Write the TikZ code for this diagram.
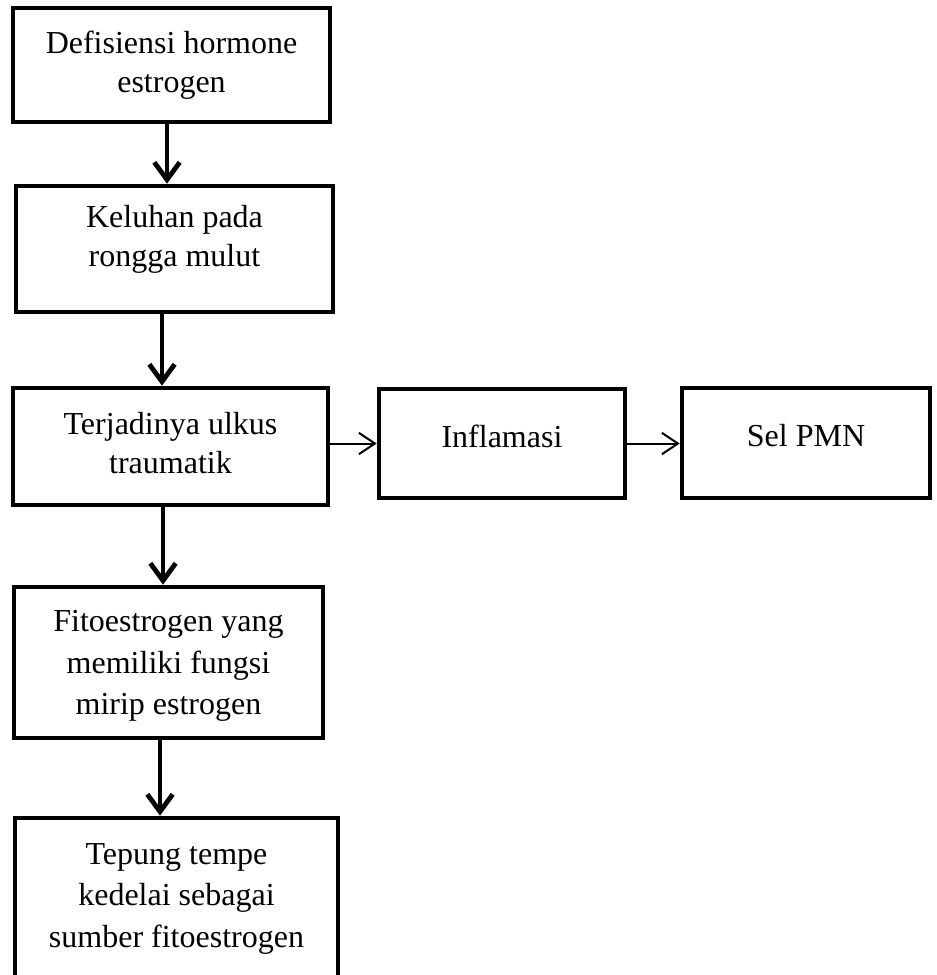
\documentclass[tikz,border=0pt]{standalone}
\usepackage{fontspec}
\setmainfont{Liberation Serif}
\usetikzlibrary{arrows.meta}

\tikzset{
  stepbox/.style={draw,line width=3.4pt,align=center,inner sep=0pt,
    font=\fontsize{24}{29.5}\selectfont},
  widebox/.style={stepbox,font=\fontsize{24}{31}\selectfont},
  downarrow/.style={line width=3.6pt,-{Straight Barb[length=13pt,width=19pt]}},
  sidearrow/.style={line width=1.5pt,-{Straight Barb[length=12pt,width=16pt]}}
}

\begin{document}
\begin{tikzpicture}[x=0.75pt,y=-0.75pt]
    \useasboundingbox (0,0) rectangle (936,975);
    % main column
    \node[stepbox,minimum width=237.8pt,minimum height=85.5pt] (defisiensi) at (171.5,65) {Defisiensi hormone\\estrogen};
    \node[stepbox,minimum width=237.8pt,minimum height=94.5pt,text depth=19.5pt] (keluhan) at (174.5,249) {Keluhan pada\\rongga mulut};
    \node[stepbox,minimum width=236.3pt,minimum height=87.8pt,text depth=5pt] (ulkus) at (170.5,446.5) {Terjadinya ulkus\\traumatik};
    \node[widebox,minimum width=231.8pt,minimum height=113.3pt,text depth=0pt] (fito) at (168.5,662.5) {Fitoestrogen yang\\memiliki fungsi\\mirip estrogen};
    \node[widebox,minimum width=242.3pt,minimum height=125.3pt,text depth=9pt] (tempe) at (176.5,901.5) {Tepung tempe\\kedelai sebagai\\sumber fitoestrogen};
    % side row
    \node[stepbox,minimum width=184.5pt,minimum height=81.8pt,text depth=11pt] (inflamasi) at (502,443.5) {Inflamasi};
    \node[stepbox,minimum width=186pt,minimum height=82.5pt,text depth=11pt] (pmn) at (806,443) {Sel PMN};
    % connectors
    \foreach \a/\b/\x in {defisiensi/keluhan/167,keluhan/ulkus/162,ulkus/fito/163,fito/tempe/160}
      \draw[downarrow] (\x,0 |- \a.south) -- (\x,0 |- \b.north);
    \draw[sidearrow] (ulkus.east |- inflamasi.west) -- (inflamasi.west);
    \draw[sidearrow] (inflamasi.east) -- (pmn.west |- inflamasi.east);
\end{tikzpicture}
\end{document}
